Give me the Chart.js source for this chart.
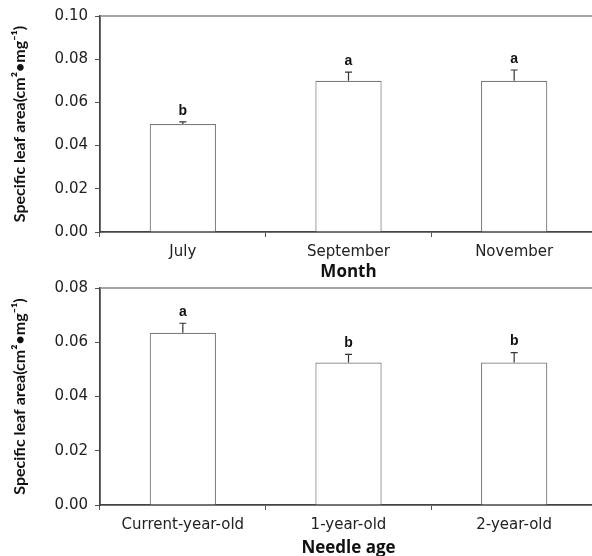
<!DOCTYPE html>
<html>
<head>
<meta charset="utf-8">
<script src="https://cdn.jsdelivr.net/npm/chart.js@4/dist/chart.umd.min.js"></script>
<style>
  html, body { margin: 0; padding: 0; background: #fff; width: 592px; height: 556px; overflow: hidden; }
  .panel { position: absolute; left: 0; width: 600px; }
  #p1 { top: 0; height: 284px; }
  #p2 { top: 272px; height: 286px; }
</style>
</head>
<body>
<div class="panel" id="p1"><canvas id="c1" width="600" height="284"></canvas></div>
<div class="panel" id="p2"><canvas id="c2" width="600" height="286"></canvas></div>
<script>
// ---- data ----
const months = ['July', 'September', 'November'];
const slaMonth = [0.050, 0.070, 0.070];
const errMonth = [0.001, 0.004, 0.005];
const lettersMonth = ['b', 'a', 'a'];

const ages = ['Current-year-old', '1-year-old', '2-year-old'];
const slaAge = [0.0635, 0.0525, 0.0525];
const errAge = [0.0035, 0.003, 0.0037];
const lettersAge = ['a', 'b', 'b'];

const yTitle = 'Specific leaf area(cm\u00B2\u2022mg\u207B\u00B9)';
const xTitleMonth = 'Month';
const xTitleAge = 'Needle age';
const yMaxMonth = 0.10;
const yMaxAge = 0.08;
const yStep = 0.02;

const errPlugin = {
  id: 'errLetters',
  afterDatasetsDraw(chart, args, opts) {
    const ctx = chart.ctx;
    const meta = chart.getDatasetMeta(0);
    const y = chart.scales.y;
    ctx.save();
    meta.data.forEach((bar, i) => {
      const v = chart.data.datasets[0].data[i];
      const top = y.getPixelForValue(v);
      const cap = y.getPixelForValue(v + opts.err[i]);
      ctx.strokeStyle = '#333';
      ctx.lineWidth = 1.2;
      ctx.beginPath();
      ctx.moveTo(bar.x, top);
      ctx.lineTo(bar.x, cap);
      ctx.moveTo(bar.x - 3.5, cap);
      ctx.lineTo(bar.x + 3.5, cap);
      ctx.stroke();
      ctx.fillStyle = '#111';
      ctx.font = 'bold 14px "Liberation Sans", Arial, sans-serif';
      ctx.textAlign = 'center';
      ctx.textBaseline = 'bottom';
      ctx.fillText(opts.letters[i], bar.x, cap - 4);
    });
    // top border
    const a = chart.chartArea;
    ctx.strokeStyle = '#888';
    ctx.lineWidth = 1.5;
    ctx.beginPath();
    ctx.moveTo(a.left, a.top);
    ctx.lineTo(a.right, a.top);
    ctx.stroke();
    ctx.restore();
  }
};

function makeChart(id, labels, values, err, letters, yMax, xTitle, pad, xHeight, titlePadBottom) {
  return new Chart(document.getElementById(id), {
    type: 'bar',
    data: {
      labels: labels,
      datasets: [{
        data: values,
        backgroundColor: '#ffffff',
        borderColor: '#7a7a7a',
        borderWidth: 1.2,
        barPercentage: 0.4,
        categoryPercentage: 1.0
      }]
    },
    options: {
      responsive: false,
      animation: false,
      devicePixelRatio: 1,
      layout: { padding: { top: pad, right: 3, left: 0, bottom: 0 } },
      plugins: {
        legend: { display: false },
        tooltip: { enabled: false },
        errLetters: { err: err, letters: letters }
      },
      scales: {
        x: {
          grid: { display: true, drawOnChartArea: false, drawTicks: true, tickLength: 5, color: '#555', offset: true },
          border: { display: true, color: '#444', width: 1.8 },
          ticks: { color: '#222', padding: 6, font: { family: '"DejaVu Sans", Verdana, sans-serif', size: 15 }, maxRotation: 0 },
          title: { display: true, text: xTitle, color: '#111', padding: { top: 2, bottom: titlePadBottom },
                   font: { family: '"Open Sans", sans-serif', size: 17, weight: 'bold' } },
          afterFit(s) { s.height = xHeight; }
        },
        y: {
          min: 0, max: yMax,
          grid: { display: true, drawOnChartArea: false, drawTicks: true, tickLength: 5, color: '#555' },
          border: { display: true, color: '#444', width: 1.8 },
          ticks: { stepSize: yStep, color: '#222', padding: 7,
                   font: { family: '"DejaVu Sans", Verdana, sans-serif', size: 15 },
                   callback: v => v.toFixed(2) },
          title: { display: true, text: yTitle, color: '#111', padding: { top: 10, bottom: 0 },
                   font: { family: 'Lato, sans-serif', size: 16, weight: 'bold' } },
          afterFit(s) { s.width = 100; }
        }
      }
    },
    plugins: [errPlugin]
  });
}

makeChart('c1', months, slaMonth, errMonth, lettersMonth, yMaxMonth, xTitleMonth, 14, 284 - 232, 2);
makeChart('c2', ages, slaAge, errAge, lettersAge, yMaxAge, xTitleAge, 15, 286 - 233, 0);
</script>
</body>
</html>
